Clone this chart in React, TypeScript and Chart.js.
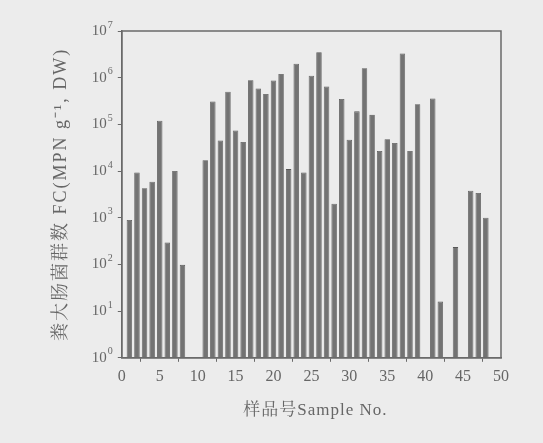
import React, { useEffect, useRef } from "react";
import { Chart, registerables } from "chart.js";

Chart.register(...registerables);

const samples: number[] = Array.from({ length: 48 }, (_, i) => i + 1);
const fcValues: (number | null)[] = [
  900, 9300, 4300, 5900, 120000, 295, 10000, 98, null, null,
  17000, 310000, 45000, 500000, 74000, 42000, 880000, 590000, 450000, 870000,
  1200000, 11000, 2000000, 9300, 1100000, 3500000, 650000, 2000, 350000, 47000,
  190000, 1600000, 160000, 27000, 48000, 40000, 3300000, 27000, 270000, null,
  360000, 16, null, 235, null, 3800, 3400, 1000,
];
const yTickPowers: number[] = [0, 1, 2, 3, 4, 5, 6, 7];
const xTitle = "样品号Sample No.";
const yTitle = "粪大肠菌群数 FC(MPN g⁻¹, DW)";

const FONT = "'Liberation Serif', 'Noto Serif CJK SC', 'Noto Sans CJK SC', serif";
const AXIS = "#6a6a6a";
const TXT = "#666";
const TICK_LEN = 4;
const Y_PAD = 11;

export default function App() {
  const ref = useRef<HTMLCanvasElement | null>(null);
  useEffect(() => {
    if (!ref.current) return;
    const frame = {
      id: "frame",
      afterDraw(chart: any) {
        const { ctx, chartArea: a } = chart;
        ctx.save();
        ctx.strokeStyle = AXIS;
        ctx.lineWidth = 1.5;
        ctx.strokeRect(a.left, a.top, a.right - a.left, a.bottom - a.top);
        // exponents of y tick labels
        const ys = chart.scales.y;
        ctx.fillStyle = TXT;
        ctx.font = `10px ${FONT}`;
        ctx.textAlign = "left";
        ctx.textBaseline = "middle";
        ys.ticks.forEach((t: any) => {
          const p = Math.round(Math.log10(t.value));
          const py = ys.getPixelForValue(t.value);
          ctx.fillText(String(p), a.left - TICK_LEN - Y_PAD + 1, py - 6);
        });
        // axis titles with letter spacing
        (ctx as any).letterSpacing = "2px";
        ctx.textAlign = "center";
        ctx.font = `18px ${FONT}`;
        ctx.save();
        ctx.translate(61, (a.top + a.bottom) / 2);
        ctx.rotate(-Math.PI / 2);
        ctx.fillText(yTitle, 0, 0);
        ctx.restore();
        (ctx as any).letterSpacing = "1px";
        ctx.font = `17px ${FONT}`;
        ctx.fillText(xTitle, (a.left + a.right) / 2 + 4, 411);
        ctx.restore();
      },
    };
    const chart = new Chart(ref.current, {
      type: "bar",
      data: {
        datasets: [
          {
            data: samples.map((s, i) => ({ x: s, y: fcValues[i] })) as any,
            backgroundColor: "#737373",
            borderColor: "#585858",
            borderWidth: 0.8,
            categoryPercentage: 0.8,
            barPercentage: 0.9,
            base: 1,
          } as any,
        ],
      },
      options: {
        animation: false,
        responsive: false,
        layout: { padding: { left: 55, right: 42, top: 31, bottom: 13 } },
        plugins: { legend: { display: false }, tooltip: { enabled: false } },
        scales: {
          x: {
            type: "linear",
            min: 0,
            max: 50,
            offset: false,
            ticks: { stepSize: 5, color: TXT, font: { family: FONT, size: 16 }, padding: 5 },
            grid: { display: true, drawOnChartArea: false, tickLength: TICK_LEN, color: AXIS },
            border: { color: AXIS, width: 1.5 },
            title: { display: true, text: xTitle, color: "rgba(0,0,0,0)", font: { family: FONT, size: 15 }, padding: { top: 17 } },
          },
          y: {
            type: "logarithmic",
            min: 1,
            max: 1e7,
            afterBuildTicks: (scale: any) => {
              scale.ticks = yTickPowers.map((p) => ({ value: Math.pow(10, p) }));
            },
            ticks: {
              color: TXT,
              font: { family: FONT, size: 15 },
              padding: Y_PAD,
              callback: () => "10",
            },
            grid: { display: true, drawOnChartArea: false, tickLength: TICK_LEN, color: AXIS },
            border: { color: AXIS, width: 1.5 },
            title: { display: true, text: yTitle, color: "rgba(0,0,0,0)", font: { family: FONT, size: 14 }, padding: { bottom: 5 } },
          },
        },
      },
      plugins: [frame],
    });
    return () => chart.destroy();
  }, []);
  return (
    <div style={{ position: "fixed", left: 0, top: 0, width: 543, height: 443, background: "#ececec" }}>
      <canvas ref={ref} width={543} height={443} style={{ display: "block" }} />
    </div>
  );
}
